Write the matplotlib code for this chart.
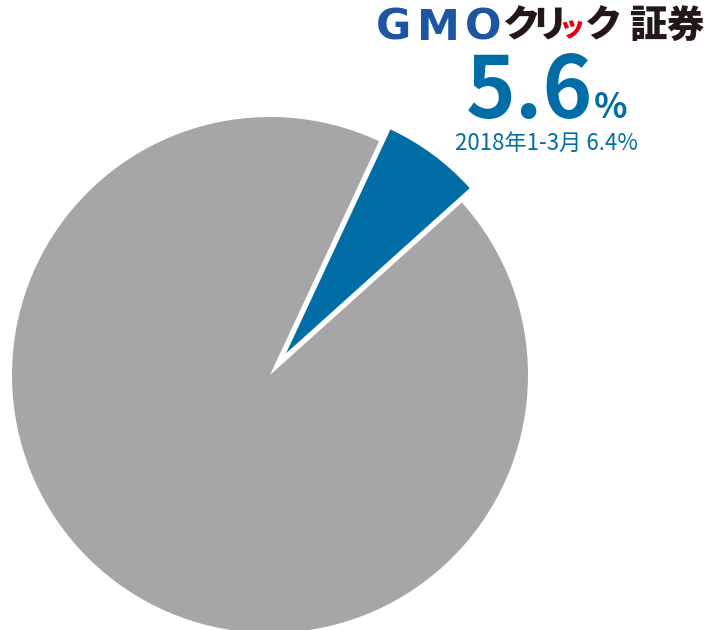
import matplotlib.pyplot as plt

# share of the pie (the drawn slice matches the previous-period share)
shares = [6.4, 93.6]
slice_colors = ['#006da6', '#a6a6a6']

headline = '5.6'
sub_label = '2018年1-3月 6.4%'

logo_latin = ['G', 'M', 'O']
logo_kana = ['ク', 'リ', 'ッ', 'ク', '証', '券']

W, H = 709, 630
fig = plt.figure(figsize=(W / 100, H / 100), dpi=100)
ax = fig.add_axes([0, 0, 1, 1])

wedges, _ = ax.pie(shares, colors=slice_colors, startangle=65, counterclock=False,
                   explode=[27, 0], radius=258, center=(270, H - 375))
wedges[0].set_radius(247)

ax.set_xlim(0, W)
ax.set_ylim(0, H)
ax.set_aspect('equal')
ax.axis('off')

blue = '#006da6'
jp = ['Noto Sans CJK JP', 'DejaVu Sans']

# logo
for ch, xc in zip(logo_latin, [394, 438, 483]):
    ax.text(xc, H - 40, ch, ha='center', va='baseline', fontsize=31,
            fontweight='bold', color='#1b55a3', family='DejaVu Sans')
kana_x = [521, 549, 572, 603, 648, 685]
for ch, xc in zip(logo_kana, kana_x):
    small = ch == 'ッ'
    ax.text(xc, H - (28 if small else 26), ch, ha='center', va='center',
            fontsize=19 if small else 27, fontweight='heavy',
            color='#e60012' if small else '#231815', family=jp)

# headline
ax.text(530, H - 118, headline, ha='center', va='baseline', fontsize=61,
        fontweight='bold', color=blue, family=jp)
ax.text(594, H - 118, '%', ha='left', va='baseline', fontsize=25,
        fontweight='bold', color=blue, family=jp)
ax.text(546, H - 150, sub_label, ha='center', va='baseline', fontsize=16,
        color=blue, family=jp)

fig.savefig('out.png', dpi=100)
